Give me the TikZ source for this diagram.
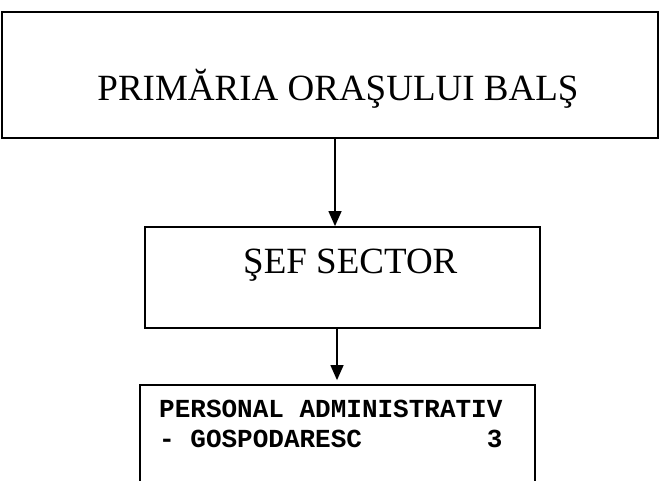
\documentclass[tikz,border=0pt]{standalone}
\usepackage{fontspec}
\setmainfont{Liberation Serif}
\newfontfamily\monobold{Liberation Mono}[BoldFont={Liberation Mono Bold}]
\usetikzlibrary{arrows.meta}
\begin{document}
\begin{tikzpicture}[x=1pt,y=-1pt,
  boxst/.style={draw=black,line width=1.8pt,rectangle,inner sep=0pt,fill=none},
  arr/.style={line width=1.3pt,-{Triangle[length=15pt,width=13pt]}},
  bigtxt/.style={font=\fontsize{37}{40}\selectfont,inner sep=0pt},
  monotxt/.style={font=\monobold\bfseries\fontsize{26}{30}\selectfont,inner sep=0pt,align=left}]
\useasboundingbox (0,0) rectangle (660,480);
% boxes
\node[boxst,minimum width=656pt,minimum height=126pt] (top) at (330,75) {};
\node[boxst,minimum width=395pt,minimum height=101pt] (mid) at (342.5,277.5) {};
\node[boxst,minimum width=395pt,minimum height=110pt] (bot) at (337.5,440) {};
% texts
\node[bigtxt,anchor=base] (toptxt) at (338,100) {PRIMĂRIA ORAŞULUI BALŞ};
\node[bigtxt,anchor=base west] (midtxt) at (243,273) {ŞEF SECTOR};
\node[monotxt,anchor=base west] (bottxt) at (159,447) {PERSONAL ADMINISTRATIV\\- GOSPODARESC\phantom{XXXXXXXX}3};
% connectors
\coordinate (a1) at (335,0);
\coordinate (a2) at (337,0);
\draw[arr] (a1 |- top.south) -- (a1 |- mid.north);
\draw[arr,shorten >=4pt] (a2 |- mid.south) -- (a2 |- bot.north);
\end{tikzpicture}
\end{document}
